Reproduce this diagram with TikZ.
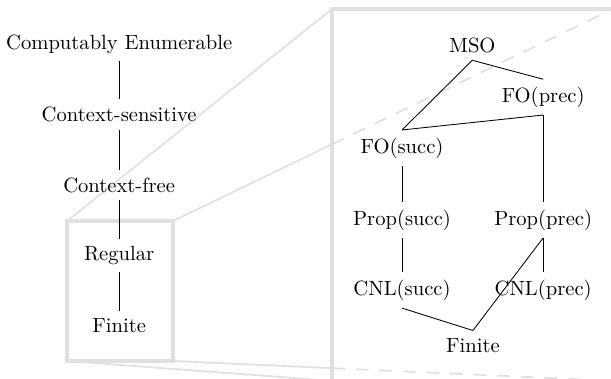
\documentclass[tikz,border=0pt]{standalone}
\tikzset{
	every node/.style={font=\fontsize{9.6}{11.5}\selectfont},
	zoombox/.style={draw=black!12, line width=1.5pt, rectangle, inner sep=0pt, outer sep=0pt},
	zoomline/.style={draw=black!12, line width=0.8pt},
	zoomhidden/.style={zoomline, dash pattern=on 6pt off 5pt},
}
\begin{document}
\begin{tikzpicture}
	\useasboundingbox (0,0) rectangle (10,-6.19);
	\clip (0,0) rectangle (10,-6.19);
	% lens on the left and the magnified view
	\node[zoombox, minimum width=1.734cm, minimum height=2.291cm] (lens) at (1.964,-4.7625) {};
	\node[zoombox, minimum width=4.596cm, minimum height=6.086cm] (view) at (7.732,-3.19) {};
	\path (lens.north east) -- (view.north east) coordinate[pos=0.3616] (cut-n);
	\path (lens.south east) -- (view.south east) coordinate[pos=0.3616] (cut-s);
	\draw[zoomline] (lens.north west) -- (view.north west);
	\draw[zoomline] (lens.south west) -- (view.south west);
	\draw[zoomline] (lens.north east) -- (cut-n);
	\draw[zoomline] (lens.south east) -- (cut-s);
	\draw[zoomhidden] (cut-n) -- (view.north east);
	\draw[zoomhidden] (cut-s) -- (view.south east);
	% Chomsky hierarchy
	\foreach \t [count=\i] in {Computably Enumerable,Context-sensitive,Context-free,Regular,Finite}{%
		\node (L-\i) at (1.95,{-0.72-1.154*(\i-1)}) {\t};
	}
	\foreach \i [count=\j from 2] in {1,...,4}{%
		\draw (L-\i.south) -- (L-\j.north);
	}
	% logics inside the regular languages
	\node (mso) at (7.73,-0.74) {MSO};
	\node (foprec) at (8.89,-1.59) {FO(prec)};
	\node (fosucc) at (6.58,-2.42) {FO(succ)};
	\node (propsucc) at (6.58,-3.60) {Prop(succ)};
	\node (propprec) at (8.89,-3.60) {Prop(prec)};
	\node (cnlsucc) at (6.58,-4.75) {CNL(succ)};
	\node (cnlprec) at (8.89,-4.75) {CNL(prec)};
	\node (fin) at (7.74,-5.65) {Finite};
	\foreach \a/\b in {mso/fosucc,mso/foprec,foprec/fosucc,fosucc/propsucc,foprec/propprec,%
		propsucc/cnlsucc,propprec/cnlprec,cnlsucc/fin,propprec/fin}{%
		\draw (\a.south) -- (\b.north);
	}
\end{tikzpicture}
\end{document}
